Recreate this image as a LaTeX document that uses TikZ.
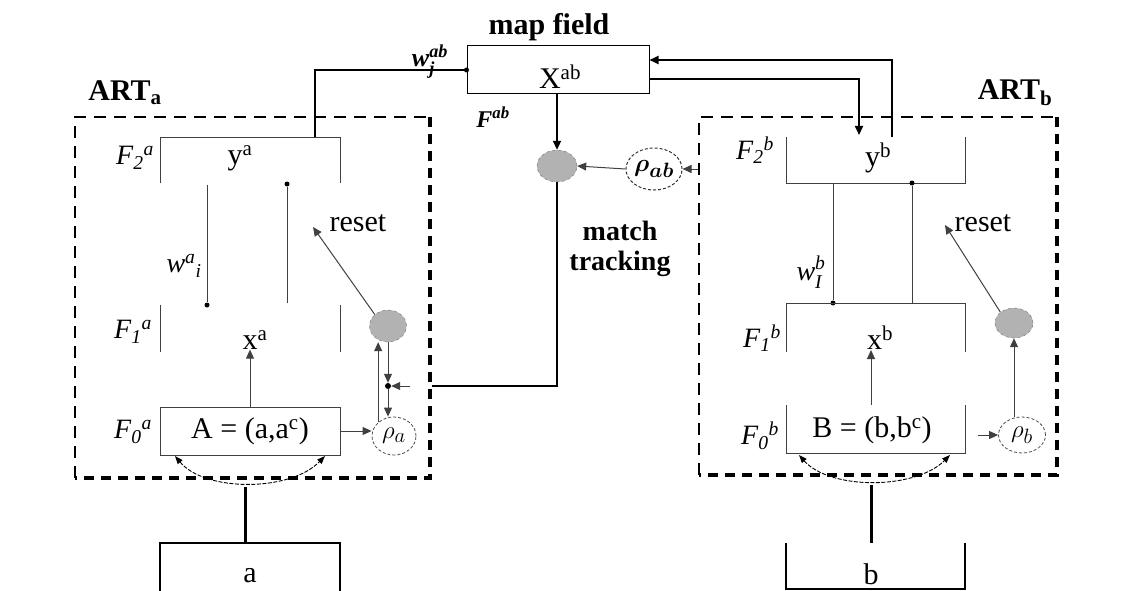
\documentclass[tikz,border=0pt]{standalone}
\usepackage{amsmath}
\usepackage{fontspec}
\setmainfont{Liberation Serif}
\usetikzlibrary{arrows.meta,shapes.geometric}
\newcommand{\bit}[1]{\text{\bfseries\itshape #1}}
\newcommand{\tit}[1]{\text{\itshape #1}}
\begin{document}
\begin{tikzpicture}[x=1pt,y=-1pt,
 every node/.style={inner sep=0pt, font=\fontsize{30}{34}\selectfont},
 thinln/.style={line width=1pt, draw=black!75},
 thickln/.style={line width=2pt},
 arr/.style={-{Triangle[length=9pt,width=8pt]}},
 dot/.style={circle, fill=black, minimum size=6pt, inner sep=0pt},
 gcirc/.style={ellipse, draw=black!55, dashed, fill=black!30, minimum width=38pt, minimum height=33pt},
 rcirc/.style={ellipse, draw=black!70, densely dashed, line width=0.8pt, minimum width=44pt, minimum height=38pt},
 dashbox/.style={line width=2pt, dash pattern=on 12pt off 8pt},
 dashboxb/.style={line width=3.5pt, dash pattern=on 10pt off 7pt},
 curv/.style={line width=0.9pt, dash pattern=on 4pt off 1.5pt, {Triangle[length=8pt,width=6pt]}-{Triangle[length=8pt,width=6pt]}},
 flab/.style={font=\fontsize{28}{32}\selectfont\itshape},
 bigb/.style={font=\fontsize{30}{34}\selectfont\bfseries}
]
\useasboundingbox (0,0) rectangle (1145,591);

% ---------------- map field ----------------
\node[bigb] (mflabel) at (549,27) {map field};
\node[draw, line width=1pt, minimum width=182pt, minimum height=48pt] (mf) at (558,70) {};
\node (xab) at (560,77) {X\textsuperscript{ab}};
\node[font=\fontsize{24}{28}\selectfont\bfseries\itshape] (fab) at (493,117) {F\textsuperscript{ab}};
\node[font=\fontsize{26}{30}\selectfont] (wab) at (430,62) {$\bit{w}^{\bit{ab}}_{\bit{j}}$};
\node[gcirc, minimum width=40pt, minimum height=32pt] (gc) at (557,166) {};
\node[ellipse, draw=black!80, densely dashed, line width=1pt, minimum width=52pt, minimum height=42pt] (rab) at (654,169) {$\boldsymbol{\rho}_{\boldsymbol{ab}}$};
\node[font=\fontsize{28}{30}\selectfont\bfseries, align=center] (mt) at (620,249) {match\\tracking};

% ---------------- ART_a ----------------
\node[bigb] (arta) at (125,93) {ART\textsubscript{a}};
\draw[dashbox] (75,478) -- (75,117) -- (430,117);
\draw[dashboxb] (430,117) -- (430,478) -- (75,478);

\draw[thinln] (160,183) -- (160,137) -- (340,137) -- (340,183);
\node (ya) at (240,158) {y\textsuperscript{a}};
\node[flab] (f2a) at (135,158) {F\textsubscript{2}\textsuperscript{a}};
\node[dot, minimum size=5pt] (da1) at (207,305) {};
\coordinate (ta1) at (207,185);
\draw[thinln] (ta1) -- (da1);
\node[dot, minimum size=5pt] (da2) at (287,184) {};
\coordinate (ba2) at (287,303);
\draw[thinln] (da2) -- (ba2);
\node[flab] (wa) at (184,266) {w\textsuperscript{a}\textsubscript{i}};
\node (reseta) at (358,223) {reset};
\draw[thinln] (160,305) -- (160,352);
\draw[thinln] (340,305) -- (340,352);
\node[flab] (f1a) at (133,332) {F\textsubscript{1}\textsuperscript{a}};
\node (xa) at (255,340) {x\textsuperscript{a}};
\node[gcirc, minimum width=37pt, minimum height=32pt] (gca) at (388,326) {};
\node[rcirc] (rhoa) at (394,436) {$\rho_a$};
\node[draw, thinln, minimum width=180pt, minimum height=48pt] (f0a) at (250,431) {A = (a,a\textsuperscript{c})};
\node[flab] (f0al) at (133,432) {F\textsubscript{0}\textsuperscript{a}};

\draw[thinln, arr] (f0a.north) -- (f0a.north |- xa.south);
\draw[thinln, arr] (f0a.east) -- (f0a.east -| rhoa.west);
\draw[thinln, arr] (rhoa.north west) -- (rhoa.north west |- gca.south);
\node[dot] (mtdot) at (388,386) {};
\draw[thinln, arr] (gca.south) -- (mtdot.north);
\draw[thinln, arr] (mtdot.south) -- (mtdot |- rhoa.north);
\coordinate (rsa) at (313,227);
\draw[thinln, arr] (gca.north west) -- (rsa);

% input a
\draw[line width=1.2pt] (160,591) -- (160,543) -- (340,543) -- (340,591);
\node (ain) at (250,576) {a};
\coordinate (ina) at (245,543);
\coordinate (ina2) at (245,487);
\draw[line width=3pt] (ina) -- (ina2);
\coordinate (ca1) at (175,456);
\coordinate (ca2) at (325,456);
\draw[curv] (ca1) .. controls (205,492) and (290,492) .. (ca2);

% map field connections
\coordinate (f2atop) at (315,137);
\draw[line width=1.5pt] (f2atop) |- (mf.west);
\node[dot, minimum size=5pt] (mfdot) at (mf.west) {};
\draw[thickln, arr] (mf.south -| gc.north) -- (gc.north);
\draw[thinln, arr] (rab.west) -- (gc.east);
\coordinate (bedge) at (699,169);
\draw[thinln, arr] (bedge) -- (rab.east);
\coordinate (mtend) at (432,386);
\draw[thickln] (gc.south) |- (mtend);
\coordinate (mttee) at (410,386);
\draw[thinln, arr] (mttee) -- (mtdot.east);

% ---------------- ART_b ----------------
\node[bigb] (artb) at (1015,93) {ART\textsubscript{b}};
\draw[dashbox] (699,475) -- (699,117) -- (1057,117);
\draw[dashboxb] (1057,117) -- (1057,475) -- (699,475);

\draw[thinln] (786,137) -- (786,183) -- (965,183) -- (965,137);
\node (yb) at (878,158) {y\textsuperscript{b}};
\node[flab] (f2b) at (755,150) {F\textsubscript{2}\textsuperscript{b}};
\node[dot, minimum size=5pt] (db1) at (833,303) {};
\coordinate (tb1) at (833,184);
\draw[thinln] (tb1) -- (db1);
\node[dot, minimum size=5pt] (db2) at (912,183) {};
\coordinate (bb2) at (912,303);
\draw[thinln] (db2) -- (bb2);
\node[font=\fontsize{28}{32}\selectfont] (wb) at (811,272) {$\tit{w}^{\text{\raisebox{2pt}{\itshape b}}}_{\text{\raisebox{-2pt}{\itshape I}}}$};
\node (resetb) at (983,223) {reset};
\draw[thinln] (786,352) -- (786,303) -- (965,303) -- (965,352);
\node[flab] (f1b) at (762,338) {F\textsubscript{1}\textsuperscript{b}};
\node (xb) at (880,338) {x\textsuperscript{b}};
\node[gcirc, minimum width=38pt, minimum height=30pt] (gcb) at (1014,323) {};
\node[rcirc, minimum width=47pt, minimum height=36pt] (rhob) at (1022,435) {$\rho_b$};
\draw[thinln] (786,405) -- (786,453) -- (965,453) -- (965,405);
\node (f0b) at (872,430) {B = (b,b\textsuperscript{c})};
\node[flab] (f0bl) at (760,436) {F\textsubscript{0}\textsuperscript{b}};
\coordinate (xbarr) at (871,405);
\draw[thinln, arr] (xbarr) -- (xbarr |- xb.south);
\coordinate (rbarr) at (978,435);
\draw[thinln, arr] (rbarr) -- (rhob.west);
\draw[thinln, arr] (rhob.north -| gcb.south) -- (gcb.south);
\coordinate (rsb) at (945,225);
\draw[thinln, arr] (gcb.north west) -- (rsb);

% input b
\draw[line width=1.2pt] (786,543) -- (786,589) -- (965,589) -- (965,543);
\node (bin) at (871,574) {b};
\coordinate (inb) at (871,543);
\coordinate (inb2) at (871,485);
\draw[line width=3pt] (inb) -- (inb2);
\coordinate (cb1) at (799,455);
\coordinate (cb2) at (950,455);
\draw[curv] (cb1) .. controls (830,490) and (915,490) .. (cb2);

% map field <-> ART_b
\coordinate (ybin) at (859,135);
\coordinate (ybtop) at (892,137);
\draw[thickln, arr] ([yshift=-9pt]mf.east) -| (ybin);
\draw[thickln, arr] (ybtop) |- ([yshift=10pt]mf.east);
\end{tikzpicture}
\end{document}
